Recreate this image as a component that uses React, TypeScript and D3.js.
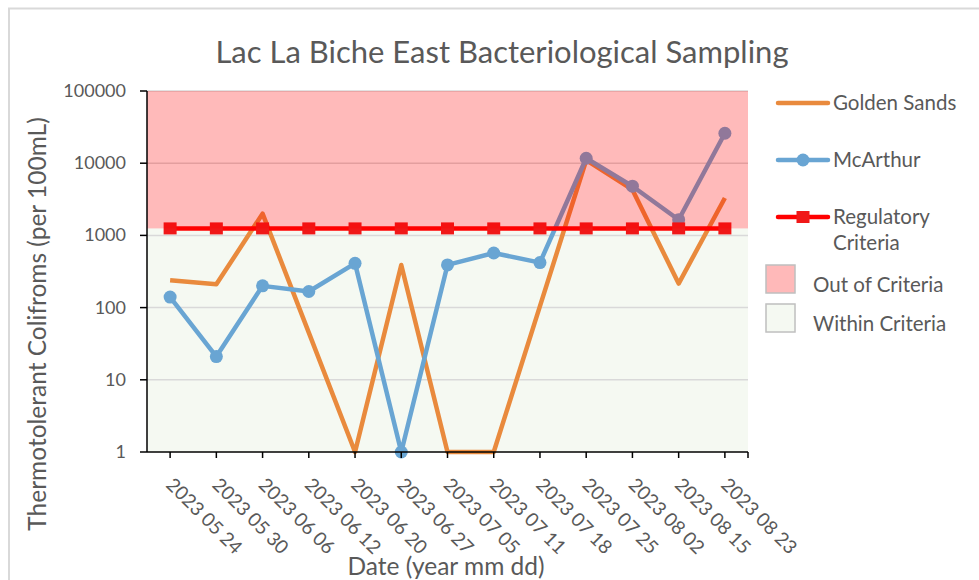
import React from "react";
import * as d3 from "d3";

const dates = [
  "2023 05 24", "2023 05 30", "2023 06 06", "2023 06 12", "2023 06 20",
  "2023 06 27", "2023 07 05", "2023 07 11", "2023 07 18", "2023 07 25",
  "2023 08 02", "2023 08 15", "2023 08 23",
];
const goldenSands = [240, 210, 2000, 45, 1, 390, 1, 1, 105, 11000, 4300, 215, 3300];
const mcArthur = [140, 21, 200, 167, 410, 1, 390, 570, 420, 11700, 4800, 1650, 26000];
const regulatory = dates.map(() => 1250);
const criteriaLimit = 1250;
const yTicks = [1, 10, 100, 1000, 10000, 100000];

const W = 979, H = 580;
const left = 147, right = 748, top = 91, bottom = 452;
const FONT = "Lato, 'Open Sans', sans-serif";
const TXT = "#595959";
const ORANGE = "#E98A3D";
const BLUE = "#69A5D3";
const RED = "#FF0000";

export default function App() {
  const x = d3.scaleBand<string>().domain(dates).range([left, right]).paddingInner(0).paddingOuter(0);
  const cx = (d: string) => (x(d) as number) + x.bandwidth() / 2;
  const y = d3.scaleLog().domain([1, 100000]).range([bottom, top]);
  const line = d3.line<number>().x((_, i) => cx(dates[i])).y((v) => y(v));
  const yLim = y(criteriaLimit);

  return (
    <svg width={W} height={H} style={{ position: "absolute", left: 0, top: 0, background: "#fff" }}>
      <rect x={9} y={8.5} width={W} height={H} fill="#fff" stroke="#d9d9d9" strokeWidth={2} />
      <text x={502} y={63} textAnchor="middle" fontFamily={FONT} fontSize={31} fill={TXT}>
        Lac La Biche East Bacteriological Sampling
      </text>

      {/* within criteria background */}
      <rect x={left} y={yLim} width={right - left} height={bottom - yLim} fill="#F5F9F2" />

      {/* gridlines */}
      {yTicks.slice(1).map((t) => (
        <line key={t} x1={left} x2={right} y1={y(t)} y2={y(t)} stroke="#d9d9d9" strokeWidth={1.5} />
      ))}

      {/* series */}
      <path d={line(goldenSands) || ""} fill="none" stroke={ORANGE} strokeWidth={4.5} strokeLinejoin="round" />
      <path d={line(mcArthur) || ""} fill="none" stroke={BLUE} strokeWidth={4.5} strokeLinejoin="round" />
      {mcArthur.map((v, i) => (
        <circle key={i} cx={cx(dates[i])} cy={y(v)} r={6.5} fill={BLUE} />
      ))}
      <path d={line(regulatory) || ""} fill="none" stroke={RED} strokeWidth={4.5} />
      {regulatory.map((v, i) => (
        <rect key={i} x={cx(dates[i]) - 6.5} y={y(v) - 6} width={13} height={12} fill="#F01818" />
      ))}

      {/* out of criteria overlay */}
      <rect x={left} y={top} width={right - left} height={yLim - top} fill="#FF0000" fillOpacity={0.27} />

      {/* axes */}
      <line x1={left} x2={left} y1={top} y2={bottom} stroke="#000" strokeWidth={1.5} />
      {yTicks.map((t) => (
        <g key={t}>
          <line x1={left - 7} x2={left} y1={y(t)} y2={y(t)} stroke="#000" strokeWidth={1.5} />
          <text x={126} y={y(t) + 6} textAnchor="end" fontFamily={FONT} fontSize={18} fill={TXT}>
            {t}
          </text>
        </g>
      ))}
      <line x1={left} x2={right} y1={bottom} y2={bottom} stroke="#000" strokeWidth={1.5} />
      {dates.map((d) => (
        <line key={d} x1={cx(d)} x2={cx(d)} y1={bottom} y2={bottom + 6} stroke="#000" strokeWidth={1.5} />
      ))}
      <line x1={right} x2={right} y1={bottom} y2={bottom + 6} stroke="#000" strokeWidth={1.5} />
      {dates.map((d) => (
        <text key={d} transform={`translate(${cx(d) - 5},${bottom + 34}) rotate(45)`} fontFamily={FONT} fontSize={19} fill={TXT}>
          {d}
        </text>
      ))}

      <text transform={`translate(46,324) rotate(-90)`} textAnchor="middle" fontFamily={FONT} fontSize={24.5} fill={TXT}>
        Thermotolerant Colifroms (per 100mL)
      </text>
      <text x={446} y={575} textAnchor="middle" fontFamily={FONT} fontSize={24.5} fill={TXT}>
        Date (year mm dd)
      </text>

      {/* legend */}
      <line x1={778} x2={828} y1={103} y2={103} stroke={ORANGE} strokeWidth={4.5} strokeLinecap="round" />
      <text x={833} y={110} fontFamily={FONT} fontSize={20.5} fill={TXT}>Golden Sands</text>
      <line x1={778} x2={828} y1={160} y2={160} stroke={BLUE} strokeWidth={4.5} strokeLinecap="round" />
      <circle cx={803} cy={160} r={6.5} fill={BLUE} />
      <text x={833} y={167} fontFamily={FONT} fontSize={20.5} fill={TXT}>McArthur</text>
      <line x1={778} x2={828} y1={217} y2={217} stroke={RED} strokeWidth={4.5} strokeLinecap="round" />
      <rect x={796.5} y={211} width={13} height={12} fill="#F01818" />
      <text x={833} y={224} fontFamily={FONT} fontSize={20.5} fill={TXT}>Regulatory</text>
      <text x={833} y={250} fontFamily={FONT} fontSize={20.5} fill={TXT}>Criteria</text>
      <rect x={766} y={265} width={29} height={28} fill="#FFB9B9" stroke="#BFBFBF" strokeWidth={1.5} />
      <text x={813} y={292} fontFamily={FONT} fontSize={20.5} fill={TXT}>Out of Criteria</text>
      <rect x={766} y={304} width={29} height={28} fill="#F5F9F2" stroke="#BFBFBF" strokeWidth={1.5} />
      <text x={813} y={331} fontFamily={FONT} fontSize={20.5} fill={TXT}>Within Criteria</text>
    </svg>
  );
}
